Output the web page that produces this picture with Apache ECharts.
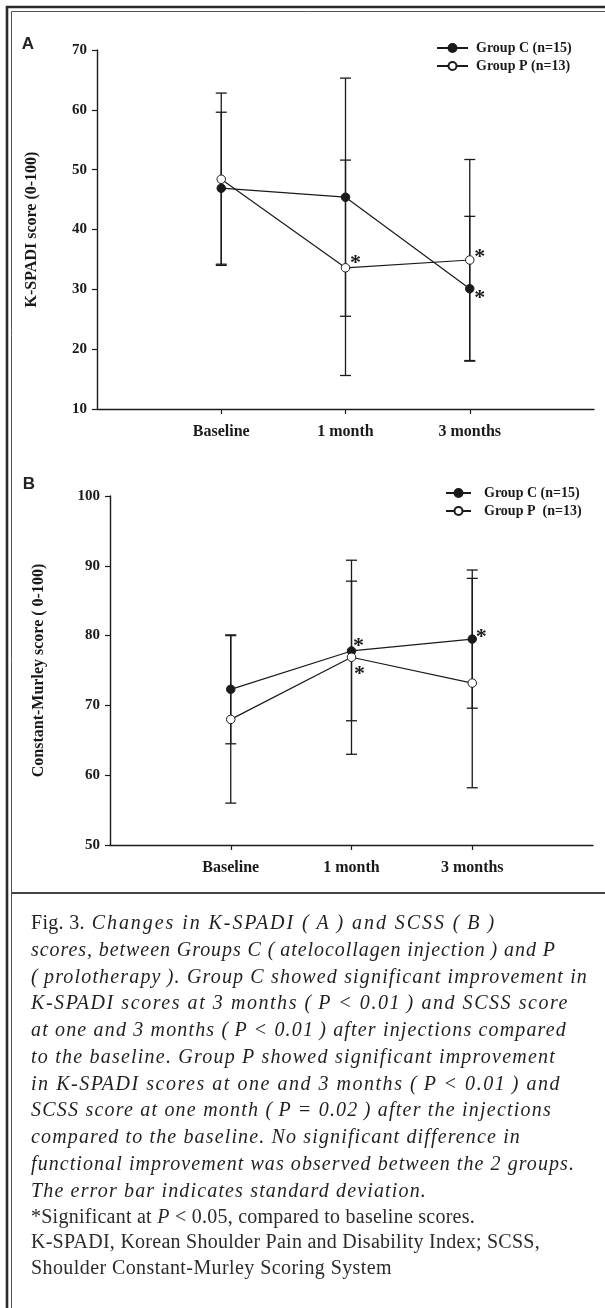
<!DOCTYPE html>
<html><head><meta charset="utf-8">
<script src="https://cdn.jsdelivr.net/npm/echarts@6/dist/echarts.min.js"></script>
<style>
html,body{margin:0;padding:0;background:#fff;}
#wrap{position:relative;width:605px;height:1308px;overflow:hidden;background:#fff;}
#chart{position:absolute;left:0;top:0;width:605px;height:1308px;}
.cap{position:absolute;left:31px;font-family:"Liberation Serif",serif;font-size:20px;color:#231f20;white-space:pre;}
.cap span.ln{display:block;}
.it{font-style:italic;line-height:26.77px;top:909px;}
.it .r{font-style:normal;letter-spacing:0.3px;}
.up{line-height:25.3px;top:1204px;color:#2b2b2b;}
.up i{font-style:italic;}
</style></head>
<body><div id="wrap"><div id="chart"></div>
<div class="cap it" id="capIt"><span class="ln"><span class="r">Fig. 3.</span> Changes in K-SPADI (&#8201;A&#8201;) and SCSS (&#8201;B&#8201;)</span><span class="ln">scores, between Groups C (&#8201;atelocollagen injection&#8201;) and P</span><span class="ln">(&#8201;prolotherapy&#8201;). Group C showed significant improvement in</span><span class="ln">K-SPADI scores at 3 months (&#8201;P &lt; 0.01&#8201;) and SCSS score</span><span class="ln">at one and 3 months (&#8201;P &lt; 0.01&#8201;) after injections compared</span><span class="ln">to the baseline. Group P showed significant improvement</span><span class="ln">in K-SPADI scores at one and 3 months (&#8201;P &lt; 0.01&#8201;) and</span><span class="ln">SCSS score at one month (&#8201;P = 0.02&#8201;) after the injections</span><span class="ln">compared to the baseline. No significant difference in</span><span class="ln">functional improvement was observed between the 2 groups.</span><span class="ln">The error bar indicates standard deviation.</span></div>
<div class="cap up" id="capUp"><span class="ln">*Significant at <i>P</i> &lt; 0.05, compared to baseline scores.</span><span class="ln">K-SPADI, Korean Shoulder Pain and Disability Index; SCSS,</span><span class="ln">Shoulder Constant-Murley Scoring System</span></div>
</div>
<script>
const categories = ['Baseline', '1 month', '3 months'];
const nameC = 'Group C (n=15)';
const nameP_A = 'Group P (n=13)';
const nameP_B = 'Group P  (n=13)';
const titleA = 'K-SPADI score (0-100)';
const titleB = 'Constant-Murley score ( 0-100)';
// Panel A: K-SPADI
const kspadiTicks = [10, 20, 30, 40, 50, 60, 70];
const kspadiC = [46.9, 45.4, 30.1];
const kspadiCsd = [12.7, 19.9, 12.1];
const kspadiP = [48.4, 33.6, 34.9];
const kspadiPsd = [14.4, 18.0, 16.8];
const kspadiCsig = [false, false, true];
const kspadiPsig = [false, true, true];
// Panel B: Constant-Murley
const cmsTicks = [50, 60, 70, 80, 90, 100];
const cmsC = [72.3, 77.8, 79.5];
const cmsCsd = [7.8, 10.0, 9.9];
const cmsP = [68.0, 76.9, 73.2];
const cmsPsd = [12.0, 13.9, 15.0];
const cmsCsig = [false, true, true];
const cmsPsig = [false, true, false];

// caption line right edges (layout), used to fit letter spacing
const capItRight = [496, 556, 588, 569, 567, 556, 561, 552, 521, 575, 427];
const capUpRight = [475, 540, 392];
function fitLines(id, rights) {
  const lines = document.querySelectorAll('#' + id + ' span.ln');
  lines.forEach((el, i) => {
    el.style.letterSpacing = '0px';
    const r = document.createRange();
    r.selectNodeContents(el);
    const w = r.getBoundingClientRect().width;
    let n = el.textContent.length;
    el.querySelectorAll('.r').forEach(s => { n -= s.textContent.length; });
    const target = rights[i] - 31;
    const ls = Math.max(-0.5, Math.min(3, (target - w) / n));
    el.style.letterSpacing = ls.toFixed(3) + 'px';
  });
}
fitLines('capIt', capItRight);
fitLines('capUp', capUpRight);

const INK = '#1a1a1a';
const SERIF = '"Liberation Serif", "Times New Roman", serif';

function errSeries(means, sds, gi) {
  return {
    type: 'custom', xAxisIndex: gi, yAxisIndex: gi, silent: true, z: 1, animation: false,
    data: means.map((m, i) => [i + 1, m - sds[i], m + sds[i]]),
    encode: {x: 0, y: [1, 2]},
    renderItem(params, api) {
      const x = api.value(0);
      const lo = api.coord([x, api.value(1)]);
      const hi = api.coord([x, api.value(2)]);
      const w = 5.5;
      const st = {stroke: INK, lineWidth: 1.3};
      return {type: 'group', children: [
        {type: 'line', shape: {x1: lo[0], y1: lo[1], x2: hi[0], y2: hi[1]}, style: st},
        {type: 'line', shape: {x1: lo[0] - w, y1: lo[1], x2: lo[0] + w, y2: lo[1]}, style: st},
        {type: 'line', shape: {x1: hi[0] - w, y1: hi[1], x2: hi[0] + w, y2: hi[1]}, style: st}
      ]};
    }
  };
}

function lineSeries(name, means, sig, filled, gi, offsets) {
  return {
    type: 'line', name, xAxisIndex: gi, yAxisIndex: gi, z: 3, animation: false,
    symbol: 'circle', symbolSize: 8.5,
    itemStyle: filled ? {color: INK, borderColor: INK, borderWidth: 1}
                      : {color: '#fff', borderColor: INK, borderWidth: 1},
    lineStyle: {color: INK, width: 1.2},
    emphasis: {disabled: true},
    data: means.map((m, i) => ({
      value: [i + 1, m],
      label: sig[i] ? {show: true, formatter: '*', position: 'inside', offset: offsets[i],
        fontSize: 22, fontWeight: 'bold', fontFamily: SERIF, color: INK} : {show: false}
    }))
  };
}

function xAxis(gi) {
  return {
    type: 'value', gridIndex: gi, min: 0, max: 4, interval: 1,
    axisLine: {show: true, lineStyle: {color: INK, width: 1.4}},
    axisTick: {show: true, customValues: [1, 2, 3], length: 5, lineStyle: {color: INK, width: 1.2}},
    axisLabel: {customValues: [1, 2, 3], formatter: v => categories[v - 1] || '', margin: 15,
      fontFamily: SERIF, fontWeight: 'bold', fontSize: 16, color: INK},
    splitLine: {show: false}
  };
}

function yAxis(gi, ticks, name, gap) {
  return {
    type: 'value', gridIndex: gi, min: ticks[0], max: ticks[ticks.length - 1], interval: ticks[1] - ticks[0],
    axisLine: {show: true, lineStyle: {color: INK, width: 1.4}},
    axisTick: {show: true, length: 5, lineStyle: {color: INK, width: 1.2}},
    axisLabel: {margin: 10, fontFamily: SERIF, fontWeight: 'bold', fontSize: 15, color: INK},
    splitLine: {show: false},
    name, nameLocation: 'middle', nameRotate: 90, nameGap: gap,
    nameTextStyle: {fontFamily: SERIF, fontWeight: 'bold', fontSize: 16, color: INK}
  };
}

function legend(names, left, top, iw, textPad) {
  return {
    data: names, orient: 'vertical', left, top, itemWidth: iw, itemHeight: 10, itemGap: 4,
    padding: 0, selectedMode: false,
    textStyle: {fontFamily: SERIF, fontWeight: 'bold', fontSize: 14, color: INK, padding: [0, 0, 0, textPad]}
  };
}

const chart = echarts.init(document.getElementById('chart'), null, {renderer: 'canvas'});
chart.setOption({
  animation: false,
  backgroundColor: 'transparent',
  grid: [
    {left: 97, top: 50, width: 497, height: 359},
    {left: 110, top: 496, width: 483, height: 349}
  ],
  xAxis: [xAxis(0), xAxis(1)],
  yAxis: [yAxis(0, kspadiTicks, titleA, 57), yAxis(1, cmsTicks, titleB, 63)],
  legend: [
    legend([nameC, nameP_A], 436, 41, 31, 3),
    legend([nameC, nameP_B], 445, 486, 25, 8)
  ],
  series: [
    errSeries(kspadiC, kspadiCsd, 0),
    errSeries(kspadiP, kspadiPsd, 0),
    lineSeries(nameC, kspadiC, kspadiCsig, true, 0, [null, null, [10, 10]]),
    lineSeries(nameP_A, kspadiP, kspadiPsig, false, 0, [null, [10, -4], [10, -3]]),
    errSeries(cmsC, cmsCsd, 1),
    errSeries(cmsP, cmsPsd, 1),
    lineSeries(nameC, cmsC, cmsCsig, true, 1, [null, [7, -5], [9, -2]]),
    lineSeries(nameP_B, cmsP, cmsPsig, false, 1, [null, [8, 17], null])
  ],
  graphic: [
    {type: 'line', shape: {x1: 7, y1: 6, x2: 7, y2: 1308}, style: {stroke: '#2a2a2a', lineWidth: 2.6}},
    {type: 'line', shape: {x1: 11.5, y1: 11.5, x2: 11.5, y2: 1308}, style: {stroke: '#555', lineWidth: 1}},
    {type: 'line', shape: {x1: 6, y1: 7, x2: 605, y2: 7}, style: {stroke: '#2a2a2a', lineWidth: 2.6}},
    {type: 'line', shape: {x1: 11.5, y1: 11.5, x2: 605, y2: 11.5}, style: {stroke: '#555', lineWidth: 1}},
    {type: 'line', shape: {x1: 11.5, y1: 893, x2: 605, y2: 893}, style: {stroke: '#444', lineWidth: 2}},
    {type: 'text', x: 28, y: 44, style: {text: 'A', fontFamily: '"Liberation Sans", Arial, sans-serif', fontWeight: 'bold', fontSize: 17, fill: '#222', align: 'center', verticalAlign: 'middle'}},
    {type: 'text', x: 29, y: 484, style: {text: 'B', fontFamily: '"Liberation Sans", Arial, sans-serif', fontWeight: 'bold', fontSize: 17, fill: '#222', align: 'center', verticalAlign: 'middle'}}
  ]
});
</script>
</body></html>
